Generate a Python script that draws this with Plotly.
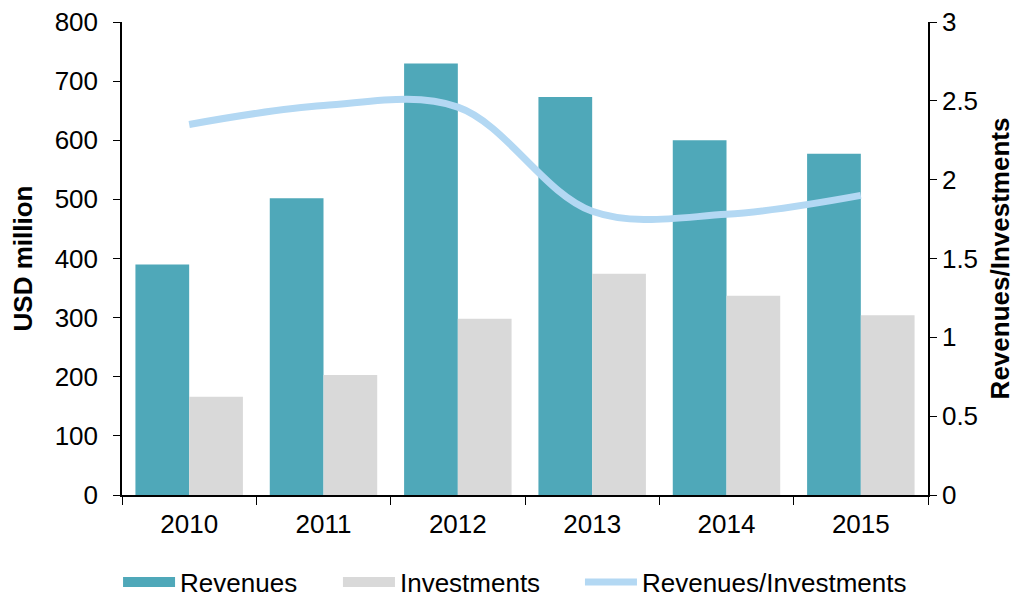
import plotly.graph_objects as go

years = ["2010", "2011", "2012", "2013", "2014", "2015"]
revenues = [390, 502, 730, 673, 600, 577]
investments = [166, 203, 298, 374, 337, 304]
ratio = [2.35, 2.47, 2.46, 1.80, 1.78, 1.90]

font = "Liberation Sans, Arial, sans-serif"
rev_color = "#4fa8b9"
inv_color = "#d9d9d9"
ratio_color = "#b3d8f3"

fig = go.Figure()
fig.add_trace(go.Bar(name="Revenues", x=years, y=revenues, marker_color=rev_color,
                     marker_line_width=0, showlegend=False))
fig.add_trace(go.Bar(name="Investments", x=years, y=investments, marker_color=inv_color,
                     marker_line_width=0, showlegend=False))
fig.add_trace(
    go.Scatter(
        name="Revenues/Investments",
        x=years,
        y=ratio,
        yaxis="y2",
        mode="lines",
        line=dict(color=ratio_color, width=7, shape="spline", smoothing=1.0),
        showlegend=False,
    )
)

# legend-only entries so the swatches look like wide blocks, one legend each
entries = [("Revenues", rev_color, 16, "legend"), ("Investments", inv_color, 16, "legend2"),
           ("Revenues/Investments", ratio_color, 7, "legend3")]
for name, color, w, lg in entries:
    fig.add_trace(go.Scatter(name=name, x=[None], y=[None], mode="lines",
                             line=dict(color=color, width=w), showlegend=True, legend=lg))

leg = dict(orientation="h", xref="container", yref="container", y=0.040,
           yanchor="middle", xanchor="left",
           font=dict(size=26), itemwidth=52, bgcolor="rgba(0,0,0,0)")

fig.update_layout(
    width=1019,
    height=598,
    margin=dict(l=114, r=99, t=14, b=111),
    paper_bgcolor="white",
    plot_bgcolor="white",
    font=dict(family=font, size=26, color="black"),
    barmode="group",
    bargap=0.2,
    bargroupgap=0,
    showlegend=True,
    legend=dict(leg, x=0.108),
    legend2=dict(leg, x=0.3238),
    legend3=dict(leg, x=0.5613),
    xaxis=dict(
        showline=True,
        linecolor="black",
        linewidth=1.5,
        ticks="outside",
        tickson="boundaries",
        ticklen=8,
        tickcolor="black",
        showgrid=False,
        automargin=False,
        ticklabelstandoff=5,
        tickfont=dict(size=26),
    ),
    yaxis=dict(
        title=dict(text="<b>USD million</b>", font=dict(size=26), standoff=18),
        range=[0, 800],
        dtick=100,
        showline=True,
        linecolor="black",
        linewidth=1.5,
        ticks="outside",
        ticklen=7,
        tickcolor="black",
        showgrid=False,
        zeroline=False,
        automargin=False,
        ticklabelstandoff=10,
        ticklabeloverflow="allow",
        tickfont=dict(size=26),
    ),
    yaxis2=dict(
        title=dict(text="<b>Revenues/Investments</b>", font=dict(size=26), standoff=14),
        range=[0, 3],
        dtick=0.5,
        overlaying="y",
        side="right",
        showline=True,
        linecolor="black",
        linewidth=1.5,
        ticks="outside",
        ticklen=7,
        tickcolor="black",
        showgrid=False,
        zeroline=False,
        automargin=False,
        ticklabeloverflow="allow",
        tickfont=dict(size=26),
    ),
)

fig.write_html("out.html")
